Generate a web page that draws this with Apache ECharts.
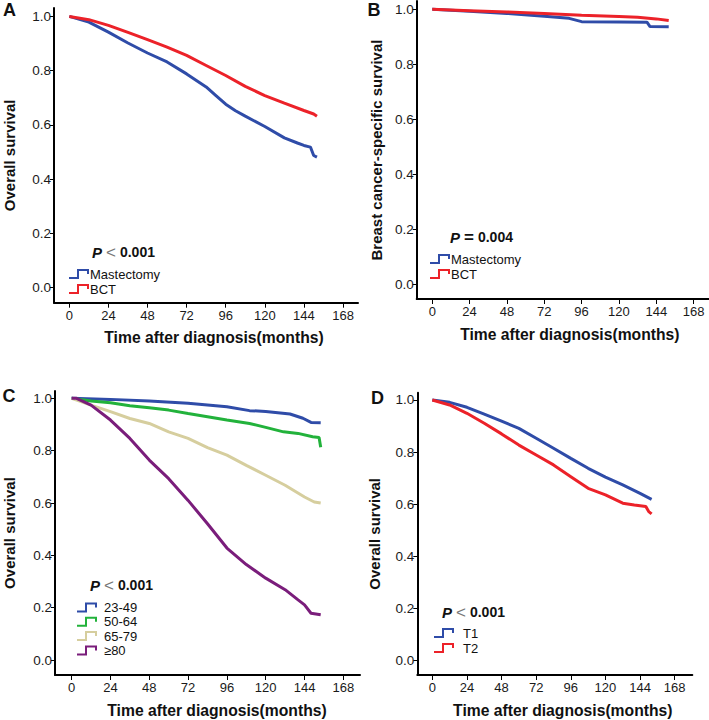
<!DOCTYPE html>
<html>
<head>
<meta charset="utf-8">
<script src="https://cdn.jsdelivr.net/npm/echarts@6.0.0/dist/echarts.min.js"></script>
<style>
html,body{margin:0;padding:0;background:#fff;}
#chart{width:709px;height:720px;}
</style>
</head>
<body>
<div id="chart"></div>
<script>
// ---- tick labels ----
const monthTicks = [0, 24, 48, 72, 96, 120, 144, 168];
const survTicks = [0, 0.2, 0.4, 0.6, 0.8, 1.0];

// ---- Panel A: overall survival by surgery ----
const tA_mast = [0, 12, 24, 36, 48, 60, 72, 84, 90, 96, 102, 108, 120, 132, 140, 144, 148, 150, 152];
const sA_mast = [1.0, 0.979, 0.942, 0.902, 0.865, 0.832, 0.788, 0.740, 0.708, 0.676, 0.652, 0.632, 0.594, 0.552, 0.533, 0.524, 0.518, 0.487, 0.481];
const tA_bct = [0, 12, 24, 36, 48, 60, 72, 84, 96, 108, 120, 132, 144, 150, 152];
const sA_bct = [1.0, 0.988, 0.967, 0.941, 0.914, 0.887, 0.856, 0.819, 0.782, 0.742, 0.708, 0.680, 0.653, 0.640, 0.632];

// ---- Panel B: breast cancer-specific survival by surgery ----
const tB_mast = [0, 24, 48, 72, 88, 96, 120, 138, 140, 152];
const sB_mast = [1.0, 0.993, 0.985, 0.975, 0.967, 0.955, 0.954, 0.953, 0.937, 0.936];
const tB_bct = [0, 24, 48, 72, 96, 120, 132, 144, 152];
const sB_bct = [1.0, 0.995, 0.990, 0.985, 0.978, 0.974, 0.971, 0.965, 0.959];

// ---- Panel C: overall survival by age group ----
const tC_a = [0, 24, 48, 72, 96, 110, 120, 135, 143, 148, 154];
const sC_a = [1.0, 0.996, 0.990, 0.981, 0.968, 0.953, 0.950, 0.940, 0.924, 0.908, 0.907];
const tC_b = [0, 12, 24, 36, 48, 60, 72, 84, 96, 110, 120, 131, 140, 149, 153, 154];
const sC_b = [1.0, 0.990, 0.983, 0.972, 0.964, 0.955, 0.942, 0.930, 0.917, 0.904, 0.889, 0.872, 0.866, 0.853, 0.850, 0.813];
const tC_c = [0, 12, 24, 36, 48, 60, 72, 84, 96, 108, 120, 132, 144, 150, 154];
const sC_c = [1.0, 0.974, 0.949, 0.923, 0.904, 0.872, 0.847, 0.812, 0.783, 0.744, 0.706, 0.668, 0.623, 0.604, 0.600];
const tC_d = [0, 3, 12, 24, 36, 48, 60, 72, 84, 96, 108, 120, 132, 140, 144, 148, 154];
const sC_d = [1.0, 1.0, 0.974, 0.917, 0.847, 0.764, 0.693, 0.610, 0.521, 0.428, 0.365, 0.313, 0.269, 0.230, 0.211, 0.179, 0.173];

// ---- Panel D: overall survival by T stage ----
const tD_t1 = [0, 12, 24, 36, 48, 60, 72, 84, 96, 108, 120, 132, 144, 152];
const sD_t1 = [1.0, 0.991, 0.972, 0.946, 0.919, 0.891, 0.853, 0.815, 0.776, 0.738, 0.704, 0.674, 0.642, 0.619];
const tD_t2 = [0, 12, 24, 36, 48, 60, 72, 84, 96, 108, 120, 132, 140, 148, 150, 152];
const sD_t2 = [1.0, 0.981, 0.949, 0.911, 0.870, 0.827, 0.789, 0.751, 0.706, 0.661, 0.636, 0.604, 0.597, 0.591, 0.572, 0.563];

const pair = (t, s) => t.map((v, i) => [v, s[i]]);

const FONT = 'Liberation Sans, Arial, Helvetica, sans-serif';
const BLUE = '#2F4CA8', RED = '#EC2229', GREEN = '#22B23B', TAN = '#D6CE9E', PURPLE = '#7A1D7B';
const STEP_ICON = 'path://M0,8 L8,8 L8,0 L20,0 L20,5 L18,5 L18,2 L10,2 L10,10 L0,10 Z';

// panel geometry (grid) and axis ranges
const panels = [
  {grid: {left: 54, top: 8, width: 304, height: 294.7}, x: [-9.4, 177.2], y: [-0.056, 1.031], yName: 'Overall survival', yGap: 37, xShift: 16},
  {grid: {left: 416.7, top: 1, width: 292.3, height: 298}, x: [-10.0, 177.9], y: [-0.053, 1.030], yName: 'Breast cancer-specific survival', yGap: 33, xShift: 14},
  {grid: {left: 55, top: 391, width: 305, height: 284}, x: [-10.3, 178.3], y: [-0.057, 1.028], yName: 'Overall survival', yGap: 38, xShift: 19},
  {grid: {left: 417.3, top: 392.7, width: 275, height: 282.3}, x: [-10.4, 180.2], y: [-0.055, 1.028], yName: 'Overall survival', yGap: 35, xShift: 16}
];

const grids = panels.map(p => Object.assign({containLabel: false}, p.grid));
const xAxes = panels.map((p, i) => ({
  type: 'value', gridIndex: i, min: p.x[0], max: p.x[1],
  name: 'Time after diagnosis(months)', nameLocation: 'middle', nameGap: 27,
  nameTextStyle: {fontFamily: FONT, fontSize: 15.7, fontWeight: 'bold', color: '#111', padding: [0, 0, 0, p.xShift]},
  axisLine: {onZero: false, lineStyle: {color: '#000', width: 2}},
  axisTick: {show: true, length: 5, lineStyle: {color: '#000', width: 1}, customValues: monthTicks},
  axisLabel: {fontFamily: FONT, fontSize: 13, color: '#1a1a1a', margin: 6, customValues: monthTicks},
  splitLine: {show: false}
}));
const yAxes = panels.map((p, i) => ({
  type: 'value', gridIndex: i, min: p.y[0], max: p.y[1],
  name: p.yName, nameLocation: 'middle', nameGap: p.yGap, nameRotate: 90,
  nameTextStyle: {fontFamily: FONT, fontSize: 15, fontWeight: 'bold', color: '#111'},
  axisLine: {onZero: false, lineStyle: {color: '#000', width: 2}},
  axisTick: {show: true, length: 4, lineStyle: {color: '#000', width: 1}, customValues: survTicks},
  axisLabel: {fontFamily: FONT, fontSize: 13.5, color: '#1a1a1a', margin: 3, customValues: survTicks,
    formatter: v => Number(v).toFixed(1)},
  splitLine: {show: false}
}));

function line(name, idx, color, t, s) {
  return {
    type: 'line', name: name, xAxisIndex: idx, yAxisIndex: idx,
    data: pair(t, s), showSymbol: false, symbol: 'none', smooth: false,
    lineStyle: {color: color, width: 3}, itemStyle: {color: color},
    animation: false, silent: true
  };
}

const series = [
  line('Mastectomy', 0, BLUE, tA_mast, sA_mast),
  line('BCT', 0, RED, tA_bct, sA_bct),
  line('Mastectomy ', 1, BLUE, tB_mast, sB_mast),
  line('BCT ', 1, RED, tB_bct, sB_bct),
  line('23-49', 2, BLUE, tC_a, sC_a),
  line('50-64', 2, GREEN, tC_b, sC_b),
  line('65-79', 2, TAN, tC_c, sC_c),
  line('≥80', 2, PURPLE, tC_d, sC_d),
  line('T1', 3, BLUE, tD_t1, sD_t1),
  line('T2', 3, RED, tD_t2, sD_t2)
];

function legend(names, left, top, gap, textPad) {
  return {
    data: names, left: left, top: top, orient: 'vertical', padding: 0,
    itemGap: gap, itemWidth: 20, itemHeight: 10, icon: STEP_ICON, selectedMode: false,
    formatter: n => n.trim(),
    textStyle: {fontFamily: FONT, fontSize: 13, lineHeight: 14, height: 14, color: '#111', padding: [0, 0, 0, textPad]}
  };
}

const legends = [
  legend(['Mastectomy', 'BCT'], 69, 267, 1, -4),
  legend(['Mastectomy ', 'BCT '], 430, 252, 1, -4),
  legend(['23-49', '50-64', '65-79', '≥80'], 77, 600.5, 0.3, 2),
  legend(['T1', 'T2'], 434, 626, 1, 4)
];

function pText(x, y, op, val) {
  return {
    type: 'text', x: x, y: y, silent: true,
    style: {
      text: '{p|P}{o|' + op + '}{v|' + val + '}',
      verticalAlign: 'middle',
      rich: {
        p: {fontFamily: FONT, fontSize: 15, fontWeight: 'bold', fontStyle: 'italic', fill: '#111'},
        o: {fontFamily: FONT, fontSize: 17, fontWeight: op.trim() === '=' ? 'bold' : 'normal', fill: op.trim() === '=' ? '#111' : '#777', padding: [0, 4, 0, 4]},
        v: {fontFamily: FONT, fontSize: 14, fontWeight: 'bold', fill: '#111'}
      }
    }
  };
}
function letter(x, y, t) {
  return {type: 'text', x: x, y: y, silent: true,
    style: {text: t, fontFamily: FONT, fontSize: 18, fontWeight: 'bold', fill: '#111', align: 'center', verticalAlign: 'middle'}};
}

const chart = echarts.init(document.getElementById('chart'), null, {renderer: 'svg'});
chart.setOption({
  backgroundColor: '#fff',
  animation: false,
  grid: grids,
  xAxis: xAxes,
  yAxis: yAxes,
  legend: legends,
  series: series,
  graphic: [
    letter(9.5, 10, 'A'), letter(374, 10, 'B'), letter(9, 396, 'C'), letter(377.5, 397.5, 'D'),
    pText(92, 252, '<', '0.001'),
    pText(450, 237, '=', '0.004'),
    pText(90, 585, '<', '0.001'),
    pText(442, 612, '<', '0.001')
  ]
});
</script>
</body>
</html>
